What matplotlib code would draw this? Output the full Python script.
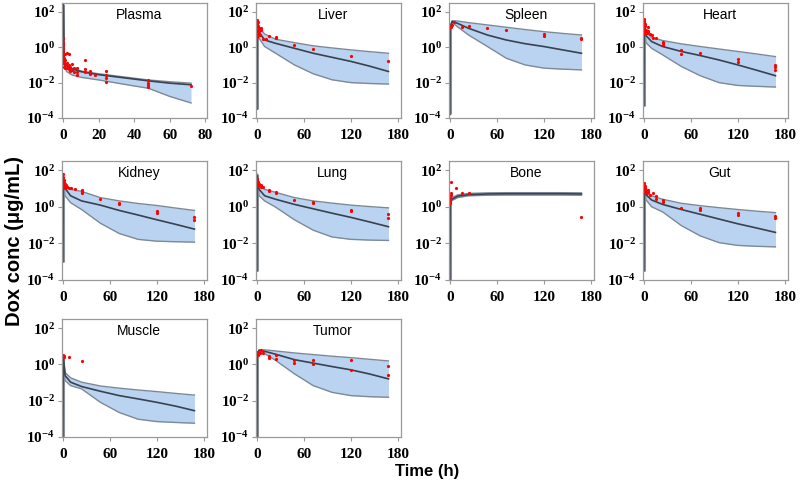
import numpy as np
import matplotlib
matplotlib.use("Agg")
import matplotlib.pyplot as plt
from matplotlib.ticker import FixedLocator, FuncFormatter

plt.rcParams['mathtext.fontset'] = 'custom'
plt.rcParams['mathtext.bf'] = 'Liberation Serif:bold'
plt.rcParams['mathtext.rm'] = 'Liberation Serif:bold'

# 모델 밴드 시간축 (h)
t_band = [0, 0.5, 3, 10, 24, 48, 72, 96, 120, 144, 168]
t_plasma = [0, 0.5, 2, 5, 10, 20, 40, 48, 60, 72]

# 밴드 값 (log10 농도, 상한 / 중앙값 / 하한)
plasma_hi = [2.45, -0.9, -1.0, -1.19, -1.34, -1.5, -1.75, -1.85, -1.95, -2.03]
plasma_med = [2.45, -0.93, -1.05, -1.23, -1.38, -1.55, -1.8, -1.9, -2.03, -2.12]
plasma_lo = [2.45, -1.1, -1.38, -1.57, -1.7, -1.85, -2.19, -2.32, -2.78, -3.15]

liver_hi = [-3.5, 1.4, 1.1, 0.75, 0.45, 0.26, 0.08, -0.04, -0.15, -0.25, -0.34]
liver_med = [-3.5, 1.3, 0.85, 0.41, 0.22, -0.06, -0.34, -0.57, -0.8, -1.07, -1.37]
liver_lo = [-3.5, 1.2, 0.5, 0.04, -0.34, -1.0, -1.5, -1.84, -2.0, -2.05, -2.08]

spleen_hi = [-3.8, 1.2, 1.5, 1.48, 1.39, 1.26, 1.13, 1.0, 0.88, 0.78, 0.69]
spleen_med = [-3.8, 1.15, 1.45, 1.35, 1.07, 0.69, 0.41, 0.2, 0.04, -0.15, -0.34]
spleen_lo = [-3.8, 1.1, 1.4, 1.15, 0.69, 0.04, -0.62, -1.0, -1.18, -1.24, -1.28]

heart_hi = [-3.3, 1.4, 0.85, 0.55, 0.38, 0.19, 0.04, -0.1, -0.24, -0.38, -0.53]
heart_med = [-3.3, 1.3, 0.65, 0.32, 0.04, -0.24, -0.47, -0.72, -1.0, -1.3, -1.61]
heart_lo = [-3.3, 1.2, 0.25, -0.06, -0.43, -1.09, -1.61, -2.0, -2.16, -2.21, -2.25]

kidney_hi = [-3.0, 1.5, 1.2, 0.95, 0.84, 0.5, 0.32, 0.18, 0.07, -0.07, -0.2]
kidney_med = [-3.0, 1.4, 1.0, 0.6, 0.32, 0.09, -0.2, -0.45, -0.71, -0.96, -1.22]
kidney_lo = [-3.0, 1.3, 0.6, 0.22, -0.15, -0.9, -1.46, -1.78, -1.88, -1.91, -1.93]

lung_hi = [-3.5, 1.8, 1.2, 0.95, 0.79, 0.5, 0.32, 0.2, 0.09, 0.01, -0.06]
lung_med = [-3.5, 1.7, 0.95, 0.6, 0.41, 0.13, -0.11, -0.35, -0.58, -0.83, -1.09]
lung_lo = [-3.5, 1.6, 0.6, 0.32, -0.02, -0.71, -1.28, -1.65, -1.78, -1.82, -1.84]

bone_hi = [-4, 0.35, 0.5, 0.65, 0.73, 0.76, 0.77, 0.77, 0.77, 0.77, 0.76]
bone_med = [-4, 0.3, 0.42, 0.58, 0.66, 0.7, 0.71, 0.71, 0.71, 0.71, 0.7]
bone_lo = [-4, 0.25, 0.35, 0.5, 0.6, 0.63, 0.64, 0.64, 0.64, 0.64, 0.63]

gut_hi = [-3.5, 1.3, 0.85, 0.6, 0.41, 0.19, 0.06, -0.05, -0.15, -0.24, -0.32]
gut_med = [-3.5, 1.2, 0.65, 0.37, 0.13, -0.15, -0.41, -0.67, -0.93, -1.16, -1.4]
gut_lo = [-3.5, 1.1, 0.37, 0.0, -0.28, -1.03, -1.59, -1.96, -2.11, -2.16, -2.19]

muscle_hi = [-4, 0.5, -0.45, -0.74, -0.98, -1.19, -1.31, -1.41, -1.5, -1.6, -1.69]
muscle_med = [-4, 0.45, -0.62, -0.98, -1.22, -1.48, -1.72, -1.9, -2.09, -2.3, -2.55]
muscle_lo = [-4, 0.4, -0.89, -1.17, -1.35, -2.09, -2.65, -3.02, -3.15, -3.2, -3.24]

tumor_hi = [-4, 0.55, 0.8, 0.8, 0.74, 0.63, 0.54, 0.45, 0.37, 0.28, 0.19]
tumor_med = [-4, 0.5, 0.78, 0.72, 0.56, 0.26, 0.07, -0.12, -0.3, -0.53, -0.8]
tumor_lo = [-4, 0.45, 0.76, 0.6, 0.22, -0.52, -1.17, -1.54, -1.72, -1.78, -1.81]

# 측정값 (시간, log10 농도)
plasma_t = [0, 0, 0, 0, 0, 0, 0, 0, 0.5, 0.5, 0.5, 1, 1, 1, 1, 2, 2, 2, 3, 3, 3, 4, 4, 5, 5,
            6, 6, 8, 8, 8, 12, 12, 12, 15, 15, 18, 24, 24, 24, 24, 48, 48, 48, 48, 72]
plasma_v = [0.5, 0.3, 0.1, -0.1, -0.3, -0.5, -0.7, -0.9, -0.6, -0.85, -1.1, -0.4, -0.75, -1.0, -1.2,
            -0.35, -0.9, -1.15, -0.4, -1.0, -1.25, -1.1, -1.35, -0.95, -1.3, -1.15, -1.4,
            -1.2, -1.4, -1.55, -0.72, -1.25, -1.38, -1.32, -1.5, -1.57,
            -1.32, -1.57, -1.75, -1.94, -1.85, -2.0, -2.15, -2.26, -2.18]

liver_t = [0, 0, 0, 0, 0, 1, 1, 1, 2, 2, 3, 3, 4, 5, 6, 8, 12, 15, 24, 24, 48, 72, 120, 168]
liver_v = [1.55, 1.45, 1.3, 1.1, 0.6, 1.4, 1.0, 0.7, 1.2, 0.8, 1.1, 0.9, 0.7, 1.07, 0.95,
           0.45, 0.45, 0.64, 0.6, 0.5, 0.13, -0.1, -0.47, -0.8]

spleen_t = [0, 0, 1, 2, 3, 5, 15, 24, 48, 72, 120, 120, 168, 168]
spleen_v = [1.13, 1.2, 1.15, 1.2, 1.25, 1.4, 1.16, 1.2, 1.07, 0.98, 0.73, 0.64, 0.54, 0.45]

heart_t = [0, 0, 0, 0, 0, 0.5, 0.5, 1, 1, 1, 2, 2, 3, 4, 5, 5, 6, 8, 10, 12, 15,
           24, 24, 24, 48, 48, 72, 120, 120, 168, 168, 168]
heart_v = [1.6, 1.4, 1.2, 1.0, 0.8, 1.5, 1.1, 1.3, 0.95, 0.8, 1.2, 0.9, 1.0, 0.8, 1.15, 0.85,
           0.9, 0.75, 0.7, 0.5, 0.52, 0.32, 0.22, 0.13, -0.15, -0.38, -0.3, -0.66, -0.86,
           -1.03, -1.14, -1.28]

kidney_t = [0, 0, 0, 0, 0.5, 0.5, 1, 1, 2, 2, 3, 3, 4, 5, 6, 8, 10, 15, 24, 24, 24,
            48, 72, 72, 120, 120, 168, 168]
kidney_v = [1.8, 1.6, 1.4, 1.2, 1.5, 1.3, 1.45, 1.15, 1.35, 1.1, 1.25, 1.05, 1.2, 1.1, 1.1,
            1.05, 1.0, 0.98, 0.9, 0.82, 0.73, 0.45, 0.22, 0.17, -0.24, -0.34, -0.58, -0.71]

lung_t = [0, 0, 0, 0.5, 1, 1, 2, 2, 3, 4, 5, 6, 6, 8, 15, 15, 24, 24, 48, 72, 72,
          120, 120, 168, 168]
lung_v = [1.5, 1.4, 1.3, 1.45, 1.35, 1.25, 1.3, 1.2, 1.25, 1.2, 1.15, 1.2, 1.07, 1.1, 0.92,
          0.85, 0.8, 0.75, 0.38, 0.28, 0.19, -0.15, -0.24, -0.38, -0.62]

bone_t = [0, 0, 0, 0, 0.5, 1, 1, 1, 8, 15, 24, 168]
bone_v = [0.5, 0.32, 0.22, 0.6, 0.28, 0.66, 0.73, 1.35, 1.03, 0.73, 0.73, -0.54]

gut_t = [0, 0, 0, 0.5, 0.5, 1, 1, 2, 2, 3, 4, 5, 6, 8, 12, 15, 15, 24, 24, 48, 72, 72,
         120, 120, 168, 168]
gut_v = [1.3, 1.1, 0.9, 1.2, 0.95, 1.15, 0.85, 1.05, 0.8, 0.9, 0.75, 0.8, 0.94, 0.65, 0.75,
         0.6, 0.41, 0.37, 0.28, -0.09, -0.04, -0.19, -0.34, -0.47, -0.5, -0.6]

muscle_t = [0, 0.5, 1, 2, 8, 24]
muscle_v = [0.5, 0.48, 0.45, 0.4, 0.41, 0.17]

tumor_t = [0, 0, 0, 0.5, 1, 1, 2, 3, 4, 5, 8, 15, 15, 24, 24, 48, 48, 72, 72, 120, 120, 168, 168]
tumor_v = [0.69, 0.6, 0.5, 0.65, 0.6, 0.52, 0.55, 0.6, 0.65, 0.78, 0.6, 0.45, 0.37, 0.5, 0.32,
           0.22, 0.09, 0.26, 0.04, 0.22, -0.3, -0.11, -0.61]

organs = ["Plasma", "Liver", "Spleen", "Heart", "Kidney", "Lung", "Bone", "Gut", "Muscle", "Tumor"]
bands = [
    (t_plasma, plasma_hi, plasma_med, plasma_lo),
    (t_band, liver_hi, liver_med, liver_lo),
    (t_band, spleen_hi, spleen_med, spleen_lo),
    (t_band, heart_hi, heart_med, heart_lo),
    (t_band, kidney_hi, kidney_med, kidney_lo),
    (t_band, lung_hi, lung_med, lung_lo),
    (t_band, bone_hi, bone_med, bone_lo),
    (t_band, gut_hi, gut_med, gut_lo),
    (t_band, muscle_hi, muscle_med, muscle_lo),
    (t_band, tumor_hi, tumor_med, tumor_lo),
]
observed = [
    (plasma_t, plasma_v), (liver_t, liver_v), (spleen_t, spleen_v), (heart_t, heart_v),
    (kidney_t, kidney_v), (lung_t, lung_v), (bone_t, bone_v), (gut_t, gut_v),
    (muscle_t, muscle_v), (tumor_t, tumor_v),
]

W, H = 800, 486
col_left = [62, 256, 449, 643]
panel_w = 145
rows = [(3, 118), (161, 280), (319, 437)]

fill_c = "#b9d3f1"
edge_c = "#7d8996"
med_c = "#39424e"
spine_c = "#999999"

fig = plt.figure(figsize=(W / 100, H / 100), dpi=100)

for i, name in enumerate(organs):
    r, c = divmod(i, 4)
    top, bot = rows[r]
    ax = fig.add_axes([col_left[c] / W, 1 - bot / H, panel_w / W, (bot - top) / H])

    t, hi, med, lo = bands[i]
    hi = 10 ** np.array(hi)
    med = 10 ** np.array(med)
    lo = 10 ** np.array(lo)
    ax.fill_between(t, lo, hi, color=fill_c, lw=0)
    # t=0 부근 급격한 변화 (회색 막대)
    ax.vlines(t[0], min(hi[0], hi[1]), max(hi[0], hi[1]), color="#8a8f96", lw=2.2)
    ax.plot(t, hi, color=edge_c, lw=1.0)
    ax.plot(t, lo, color=edge_c, lw=1.0)
    ax.plot(t, med, color=med_c, lw=1.2)

    ot, ov = observed[i]
    ax.plot(ot, 10 ** np.array(ov), 'o', color="red", ms=2.3, mew=0)

    ax.set_yscale("log")
    ax.set_ylim(1e-4, 10 ** 2.5)
    ax.yaxis.set_major_locator(FixedLocator([1e-4, 1e-2, 1, 1e2]))
    ax.yaxis.set_minor_locator(FixedLocator([]))
    ax.yaxis.set_major_formatter(FuncFormatter(lambda v, p: r"$\mathbf{10^{%d}}$" % round(np.log10(v))))

    if name == "Plasma":
        ax.set_xlim(-0.7, 81)
        ax.set_xticks([0, 20, 40, 60, 80])
    else:
        ax.set_xlim(-1, 184)
        ax.set_xticks([0, 60, 120, 180])

    for lab in ax.get_xticklabels():
        lab.set_fontfamily("Liberation Serif")
        lab.set_fontweight("bold")
    ax.tick_params(axis="both", direction="out", length=3, width=0.8, color=spine_c,
                   labelsize=11, pad=2)
    ax.tick_params(axis="x", pad=5)
    for s in ax.spines.values():
        s.set_color(spine_c)
        s.set_linewidth(0.9)

    ax.text(0.53, 0.955, name, transform=ax.transAxes, ha="center", va="top",
            fontsize=10, family="Liberation Sans")

fig.text(15 / W, 1 - 241 / H, "Dox conc (μg/mL)", rotation=90, ha="center", va="center",
         fontsize=14.5, fontweight="bold", family="Liberation Sans")
fig.text(427 / W, 1 - 471 / H, "Time (h)", ha="center", va="center",
         fontsize=12, fontweight="bold", family="Liberation Sans")

fig.savefig("out.png", dpi=100)
